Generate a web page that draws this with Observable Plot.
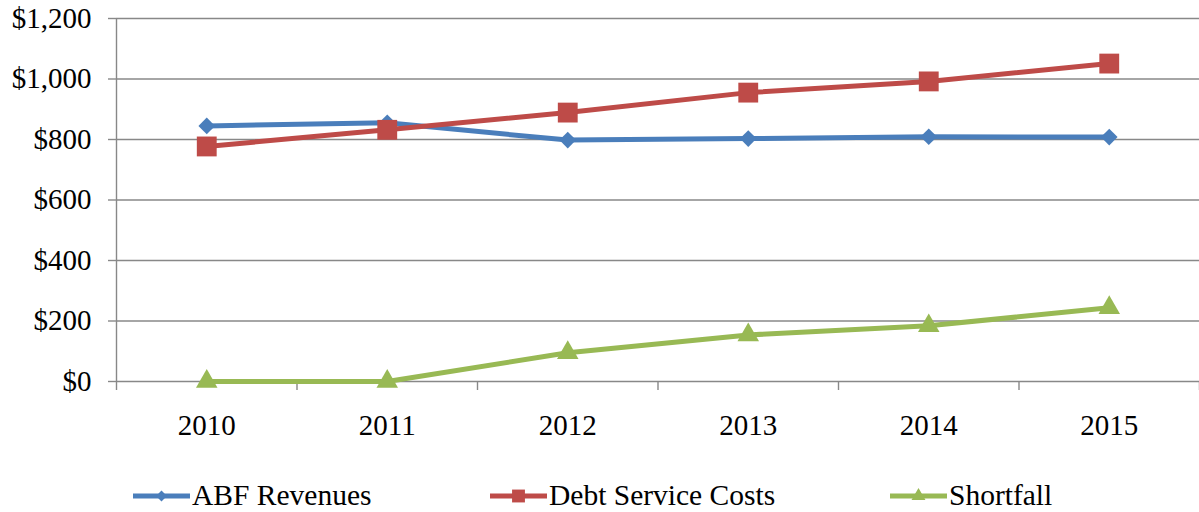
<!DOCTYPE html>
<html>
<head>
<meta charset="utf-8">
<script src="https://cdn.jsdelivr.net/npm/d3@7"></script>
<script src="https://cdn.jsdelivr.net/npm/@observablehq/plot@0.6"></script>
</head>
<body style="margin:0;background:#fff;font-family:'Liberation Serif'">
<div id="wrap" style="position:relative;width:1199px"></div>
<script>
const years = [2010, 2011, 2012, 2013, 2014, 2015];
const abfRevenues = [845, 855, 798, 803, 809, 808];
const debtService = [777, 832, 889, 955, 992, 1051];
const shortfall = [0, 0, 95, 154, 184, 244];
const yTicks = [0, 200, 400, 600, 800, 1000, 1200];
const seriesNames = ["ABF Revenues", "Debt Service Costs", "Shortfall"];
const seriesColors = ["#4A7EBB", "#BE4B48", "#98B954"];
const seriesSymbols = ["diamond2", "square", "triangle"];
const seriesR = [7.5, 11.2, 8.0];

const seriesValues = [abfRevenues, debtService, shortfall];
const data = seriesNames.flatMap((name, i) =>
  years.map((yr, j) => ({ series: name, year: yr, value: seriesValues[i][j] })));

const boundaries = years.map(y => y - 0.5).concat([years[years.length - 1] + 0.5]);
const grid = "#888888";
const fmt = d => "$" + d3.format(",")(d);
const serif = "'Liberation Serif'";

const marks = [
  Plot.ruleY(yTicks, { stroke: grid, strokeWidth: 1.4 }),
  Plot.ruleX([boundaries[0]], { stroke: grid, strokeWidth: 1.4 }),
  Plot.axisY({ ticks: yTicks, tickSize: 8, tickPadding: 17, tickFormat: fmt, stroke: grid, strokeWidth: 1.4, fontSize: 29, fontFamily: serif, fill: "#000", label: null }),
  Plot.axisX({ ticks: boundaries, tickSize: 9, tickFormat: () => "", stroke: grid, strokeWidth: 1.4, label: null }),
  Plot.axisX({ ticks: years, tickSize: 0, tickPadding: 33, tickFormat: d => String(d), fontSize: 29, fontFamily: serif, fill: "#000", label: null })
];
seriesNames.forEach((name, i) => {
  const d = data.filter(r => r.series === name);
  marks.push(Plot.line(d, { x: "year", y: "value", stroke: seriesColors[i], strokeWidth: 5 }));
  marks.push(Plot.dot(d, { x: "year", y: "value", symbol: () => seriesSymbols[i], fill: seriesColors[i], stroke: "none", r: seriesR[i] }));
});

const chart = Plot.plot({
  width: 1199,
  height: 450,
  marginLeft: 116,
  marginRight: 0,
  marginTop: 18,
  marginBottom: 69,
  style: { fontFamily: serif, fontSize: "29px", background: "#fff", overflow: "visible" },
  x: { type: "linear", domain: [boundaries[0], boundaries[boundaries.length - 1]], axis: null },
  y: { domain: [yTicks[0], yTicks[yTicks.length - 1]], axis: null },
  symbol: { type: "identity" },
  marks
});
d3.select(chart).selectAll("text").style("font-family", serif);
document.getElementById("wrap").appendChild(chart);

// legend
const legend = document.createElement("div");
legend.setAttribute("style", "position:relative;width:1199px;height:62px;font-size:29.5px;color:#000;font-family:'Liberation Serif'");
const legendLeft = [133, 490, 890];
seriesNames.forEach((name, i) => {
  const item = document.createElement("div");
  item.setAttribute("style", `position:absolute;top:29px;left:${legendLeft[i]}px;display:flex;align-items:center;white-space:nowrap;font-family:'Liberation Serif'`);
  const sym = d3.create("svg").attr("width", 57).attr("height", 24).style("margin-right", "2px");
  sym.append("line").attr("x1", 0).attr("x2", 57).attr("y1", 12).attr("y2", 12)
    .attr("stroke", seriesColors[i]).attr("stroke-width", 5);
  const symType = { diamond2: d3.symbolDiamond2, square: d3.symbolSquare, triangle: d3.symbolTriangle }[seriesSymbols[i]];
  sym.append("path").attr("transform", "translate(28.5,12)")
    .attr("d", d3.symbol(symType, Math.PI * seriesR[i] * seriesR[i] * 0.42)())
    .attr("fill", seriesColors[i]);
  item.appendChild(sym.node());
  const t = document.createElement("span");
  t.setAttribute("style", "font-family:'Liberation Serif'");
  t.textContent = name;
  item.appendChild(t);
  legend.appendChild(item);
});
document.getElementById("wrap").appendChild(legend);
</script>
</body>
</html>
